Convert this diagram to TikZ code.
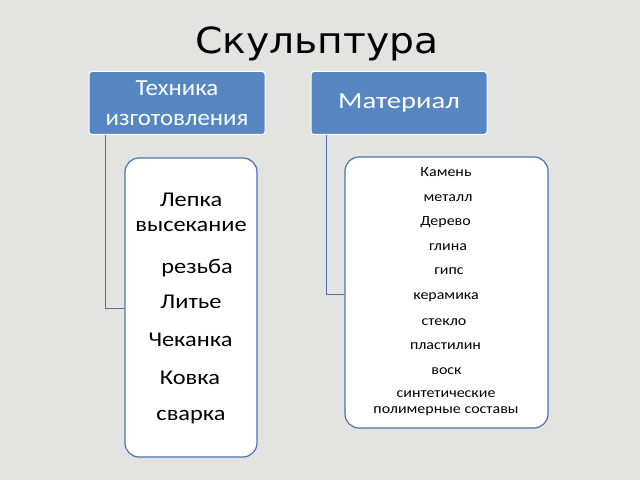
\documentclass[tikz,border=0pt]{standalone}
\usepackage{fontspec}
\setmainfont{Carlito}
\newfontfamily\titlefont[FakeStretch=1.09]{DejaVu Sans}
\newfontfamily\headfont[FakeStretch=1.08]{Carlito}
\newfontfamily\matheadfont[FakeStretch=1.24]{Carlito}
\newfontfamily\techfont[FakeStretch=1.16]{Carlito}
\newfontfamily\matfont[FakeStretch=1.14]{Carlito}
\usepackage{tikz}
\usepackage{xcolor}
\definecolor{headblue}{HTML}{5687C3}
\definecolor{lineblue}{HTML}{4A74AE}
\definecolor{paper}{HTML}{E3E3E1}

\tikzset{
  head/.style={draw=white,line width=1pt,fill=headblue,rounded corners=3pt,
    text=white,align=center,font=\headfont\fontsize{23}{30}\selectfont,inner sep=0pt},
  listbox/.style={draw=lineblue,line width=1.2pt,fill=white,rounded corners=14pt},
  item/.style={inner sep=0pt,align=center},
  link/.style={draw=lineblue,line width=1pt}
}

\begin{document}
\begin{tikzpicture}[x=1pt,y=1pt]
% background
\fill[paper] (0,0) rectangle (640,480);
\useasboundingbox (0,0) rectangle (640,480);
% title
\node (title) at (317,436) {\titlefont\fontsize{36}{40}\selectfont Скульптура};
% headers
\node[head,minimum width=176,minimum height=63] (tech) at (177,377) {Техника\\изготовления};
\node[head,minimum width=176,minimum height=63,font=\matheadfont\fontsize{23}{30}\selectfont] (mat) at (399,377) {Материал};
% left hand
\node[listbox,minimum width=132,minimum height=299] (techlist) at (191,172.5) {};
\begin{scope}[font=\techfont\fontsize{21}{25}\selectfont]
\node[item] (t1) at (191,280) {Лепка};
\node[item] (t2) at (191,254) {высекание};
\node[item] (t3) at (197,212) {резьба};
\node[item] (t4) at (191,178) {Литье};
\node[item] (t5) at (190.5,140) {Чеканка};
\node[item] (t6) at (190,102) {Ковка};
\node[item] (t7) at (191,63) {сварка};
\end{scope}
% right hand
\node[listbox,minimum width=203,minimum height=271] (matlist) at (446.5,187.5) {};
\begin{scope}[font=\matfont\fontsize{14}{16}\selectfont]
\node[item] (m1) at (446,308) {Камень};
\node[item] (m2) at (448,282) {металл};
\node[item] (m3) at (445.5,258) {Дерево};
\node[item] (m4) at (448,233) {глина};
\node[item] (m5) at (449,209) {гипс};
\node[item] (m6) at (446,183) {керамика};
\node[item] (m7) at (444,158) {стекло};
\node[item] (m8) at (445.5,134) {пластилин};
\node[item] (m9) at (446.5,109) {воск};
\node[item] (m10) at (446,77) {синтетические\\полимерные составы};
\end{scope}
% connectors
\coordinate (tbend) at ([xshift=17]tech.south west);
\coordinate (mbend) at ([xshift=16]mat.south west);
\draw[link] (tbend) |- (techlist.west |- 0,172);
\draw[link] (mbend) |- (matlist.west |- 0,186);
\end{tikzpicture}
\end{document}
